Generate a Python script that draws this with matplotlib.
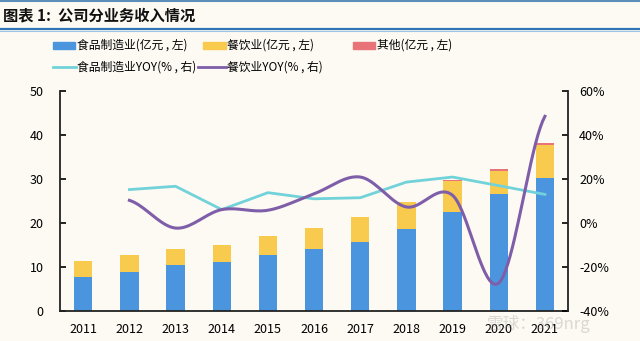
import numpy as np
import matplotlib.pyplot as plt
from matplotlib.patches import Rectangle
from matplotlib.lines import Line2D

plt.rcParams['font.family'] = ['Noto Sans CJK SC', 'DejaVu Sans']

years = ['2011', '2012', '2013', '2014', '2015', '2016', '2017', '2018', '2019', '2020', '2021']
food = [7.8, 8.9, 10.5, 11.1, 12.7, 14.0, 15.6, 18.6, 22.6, 26.7, 30.2]
dining = [3.5, 3.9, 3.7, 4.0, 4.3, 4.9, 5.8, 6.2, 7.0, 5.1, 7.6]
other = [0, 0, 0, 0, 0, 0, 0, 0, 0.2, 0.4, 0.5]
food_yoy = [np.nan, 15.2, 16.7, 6.1, 13.8, 11.0, 11.5, 18.6, 20.9, 17.0, 13.0]
dining_yoy = [np.nan, 10.3, -2.3, 6.1, 5.8, 13.3, 20.9, 7.3, 12.6, -27.3, 48.5]

c_food = '#4A95DE'
c_dining = '#F8CB4F'
c_other = '#E8747A'
c_food_yoy = '#72D2DA'
c_dining_yoy = '#7F5EA9'
bg = '#FDFAF3'


def smooth(x, y, n=20):
    # catmull-rom style smoothing, like excel's smoothed line
    x = np.asarray(x, float)
    y = np.asarray(y, float)
    xs, ys = [], []
    for i in range(len(x) - 1):
        p0 = y[i - 1] if i > 0 else y[i]
        p3 = y[i + 2] if i + 2 < len(y) else y[i + 1]
        p1, p2 = y[i], y[i + 1]
        t = np.linspace(0, 1, n, endpoint=False)
        yy = 0.5 * ((2 * p1) + (-p0 + p2) * t + (2 * p0 - 5 * p1 + 4 * p2 - p3) * t ** 2
                    + (-p0 + 3 * p1 - 3 * p2 + p3) * t ** 3)
        xs.append(x[i] + (x[i + 1] - x[i]) * t)
        ys.append(yy)
    xs.append([x[-1]])
    ys.append([y[-1]])
    return np.concatenate(xs), np.concatenate(ys)


fig = plt.figure(figsize=(6.4, 3.41), dpi=100, facecolor=bg)

# header
fig.add_artist(Line2D([0, 1], [0.998, 0.998], color='#5B8DB8', lw=1.5))
fig.add_artist(Line2D([0, 1], [0.916, 0.916], color='#2E75B6', lw=1.6))
fig.add_artist(Line2D([0, 1], [0.909, 0.909], color='#9DC3E6', lw=0.8))
fig.text(0.004, 0.955, '图表 1:  公司分业务收入情况', fontsize=11, fontweight='bold',
         style='italic', va='center', ha='left', color='#111111')

ax = fig.add_axes([0.094, 0.088, 0.7935, 0.645])
ax.set_facecolor(bg)
x = np.arange(len(years))
w = 0.4
ax.bar(x, food, w, color=c_food, zorder=2)
ax.bar(x, dining, w, bottom=food, color=c_dining, zorder=2)
ax.bar(x, other, w, bottom=np.array(food) + np.array(dining), color=c_other, zorder=2)

ax.set_xlim(-0.5, 10.5)
ax.set_ylim(0, 50)
ax.set_yticks(range(0, 51, 10))
ax.set_xticks(x)
ax.set_xticklabels(years)
ax.tick_params(axis='y', direction='in', length=4, labelsize=9, pad=12, width=1.2)
ax.tick_params(axis='x', length=0, labelsize=9, pad=9)
for s in ['top', 'right']:
    ax.spines[s].set_visible(False)
ax.spines['left'].set_linewidth(1.3)
ax.spines['bottom'].set_linewidth(1.3)
ax.spines['left'].set_color('#222222')
ax.spines['bottom'].set_color('#222222')

ax2 = ax.twinx()
ax2.set_ylim(-40, 60)
ax2.set_yticks(range(-40, 61, 20))
ax2.set_yticklabels([f'{v}%' for v in range(-40, 61, 20)])
ax2.tick_params(axis='y', direction='in', length=4, labelsize=9, pad=8, width=1.2)
for s in ['top', 'left', 'bottom']:
    ax2.spines[s].set_visible(False)
ax2.spines['right'].set_linewidth(1.3)
ax2.spines['right'].set_color('#222222')

ax2.plot(x[1:], food_yoy[1:], color=c_food_yoy, lw=2, zorder=3)
sx, sy = smooth(x[1:], dining_yoy[1:])
ax2.plot(sx, sy, color=c_dining_yoy, lw=2.2, zorder=3)

# legend
fs = 8.5
fig.add_artist(Rectangle((0.083, 0.857), 0.034, 0.02, color=c_food))
fig.text(0.12, 0.867, '食品制造业(亿元 , 左)', fontsize=fs, va='center')
fig.add_artist(Rectangle((0.317, 0.857), 0.036, 0.02, color=c_dining))
fig.text(0.355, 0.867, '餐饮业(亿元 , 左)', fontsize=fs, va='center')
fig.add_artist(Rectangle((0.552, 0.857), 0.034, 0.02, color=c_other))
fig.text(0.589, 0.867, '其他(亿元 , 左)', fontsize=fs, va='center')
fig.add_artist(Line2D([0.083, 0.119], [0.803, 0.803], color=c_food_yoy, lw=2))
fig.text(0.12, 0.803, '食品制造业YOY(% , 右)', fontsize=fs, va='center')
fig.add_artist(Line2D([0.31, 0.353], [0.803, 0.803], color=c_dining_yoy, lw=2))
fig.text(0.355, 0.803, '餐饮业YOY(% , 右)', fontsize=fs, va='center')

fig.text(0.76, 0.05, '雪球：369nrg', fontsize=12, color='#999999', alpha=0.35, va='center')

fig.savefig('out.png', dpi=100, facecolor=bg)
